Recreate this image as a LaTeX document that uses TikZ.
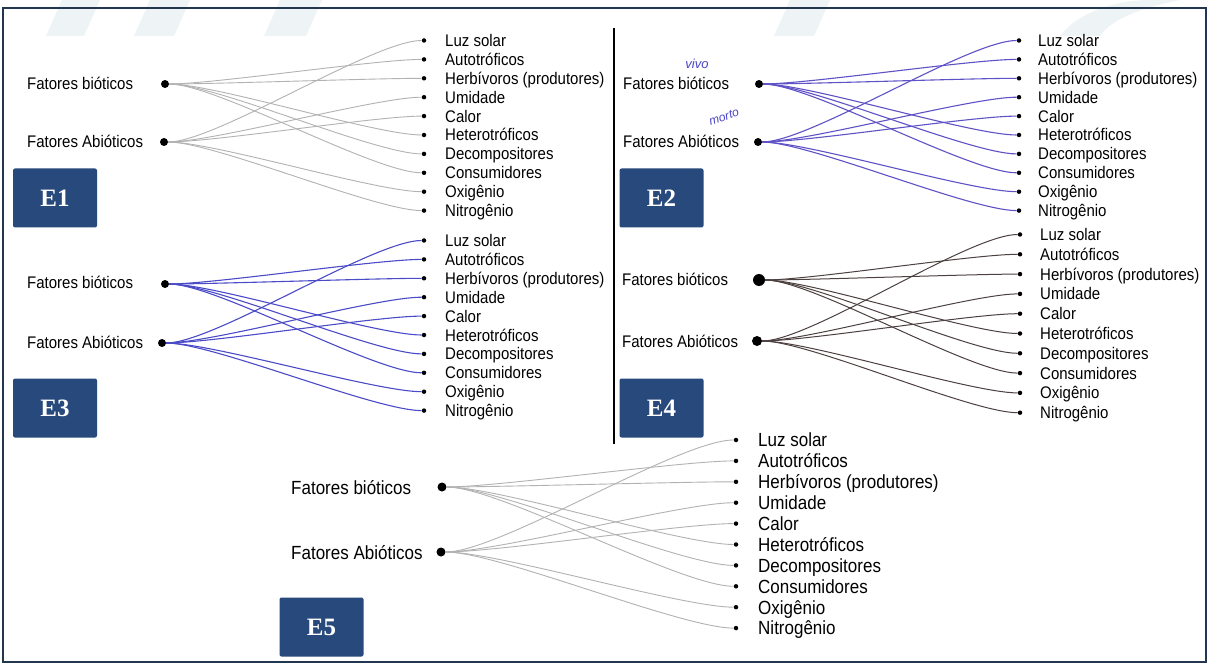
\documentclass[tikz,border=0pt]{standalone}
\usepackage{fontspec}
\setmainfont{Liberation Sans}
\newfontfamily\boxfont{Liberation Serif}
\definecolor{navy}{HTML}{27497B}
\definecolor{framec}{HTML}{22364F}
\definecolor{wmc}{HTML}{EEF3F5}
\definecolor{pena}{HTML}{5F52C6}
\definecolor{penb}{HTML}{4B4BC8}
\definecolor{penc}{HTML}{4D4040}
\definecolor{hand}{HTML}{4A45C8}
\newcommand\tall[1]{\scalebox{1}[1.12]{#1}}
\newcommand\itemlist[6]{%
  \foreach \t [count=\i] in {Luz solar,Autotróficos,Herbívoros (produtores),Umidade,Calor,Heterotróficos,Decompositores,Consumidores,Oxigênio,Nitrogênio}{%
    \node[bul] (#1i\i) at (#2,{#4+(\i-1)*#5}) {};
    \node[txt, font=\fontsize{#6}{#6}\selectfont] (#1t\i) at (#3,{#4+(\i-1)*#5+0.4*#6}) {\tall{\t}};
  }}
\newcommand\links[2]{%
  \foreach \j in {2,3,6,7,8} {\draw[#2] (#1b) to (#1i\j);}
  \foreach \j in {1,4,5,9,10} {\draw[#2] (#1a) to (#1i\j);}}
\begin{document}
\begin{tikzpicture}[x=1pt,y=-1pt,
  txt/.style={anchor=base west, inner sep=0},
  bul/.style={circle, fill=black, inner sep=0, minimum size=4.5},
  bigdot/.style={circle, fill=black, inner sep=0, minimum size=8},
  ebox/.style={fill=navy, rounded corners=2, minimum width=84, minimum height=59,
     text=white, font=\boxfont\bfseries\fontsize{25}{25}\selectfont},
  conn/.style={out=0, in=180, looseness=0.45},
  l1/.style={conn, draw=black!30, line width=0.9},
  l2/.style={conn, draw=pena, line width=1.1},
  l3/.style={conn, draw=penb, line width=1.1},
  l4/.style={conn, draw=penc, line width=1.0},
  l5/.style={conn, draw=black!30, line width=0.9},
  wm/.style={fill=wmc}]
\useasboundingbox (0,0) rectangle (1208,663);
\fill[white] (0,0) rectangle (1208,663);
% faint watermark shapes at the top
\fill[wm] (62,0) -- (100,0) -- (84,36) -- (46,36) -- cycle;
\fill[wm] (150,0) -- (190,0) -- (174,36) -- (134,36) -- cycle;
\fill[wm] (280,0) -- (322,0) -- (306,36) -- (264,36) -- cycle;
\fill[wm] (790,0) -- (830,0) -- (814,36) -- (774,36) -- cycle;
\fill[wm] (1060,36) .. controls (1080,10) and (1120,0) .. (1150,0) -- (1180,0) .. controls (1140,8) and (1110,20) .. (1100,36) -- cycle;
% frame
\draw[framec, line width=2.5] (3,8) rectangle (1206,662);
\coordinate (divtop) at (614,28);
\coordinate (divbot) at (614,444);
\draw[black, line width=2] (divtop) -- (divbot);

% ---------- E1 ----------
\node[txt, font=\fontsize{15}{15}\selectfont] (e1bl) at (27,90) {\tall{Fatores bióticos}};
\node[txt, font=\fontsize{15}{15}\selectfont] (e1al) at (27,148) {\tall{Fatores Abióticos}};
\node[bigdot] (e1b) at (165,84) {};
\node[bigdot] (e1a) at (164,142) {};
\itemlist{e1}{424}{445}{40.5}{18.9}{15}
\links{e1}{l1}
\node[ebox] (E1) at (55,198) {E1};

% ---------- E2 ----------
\node[txt, font=\fontsize{15}{15}\selectfont] (e2bl) at (623,90) {\tall{Fatores bióticos}};
\node[txt, font=\fontsize{15}{15}\selectfont] (e2al) at (623,148) {\tall{Fatores Abióticos}};
\node[bigdot] (e2b) at (759,84) {};
\node[bigdot] (e2a) at (758,142) {};
\itemlist{e2}{1019}{1038}{40.5}{18.9}{15}
\links{e2}{l2}
\node[text=hand, font=\itshape\fontsize{13}{13}\selectfont, inner sep=0] (vivo) at (697,64) {vivo};
\node[text=hand, font=\itshape\fontsize{12}{12}\selectfont, inner sep=0, rotate=18] (morto) at (724,117) {morto};
\node[ebox] (E2) at (661.5,198) {E2};

% ---------- E3 ----------
\node[txt, font=\fontsize{15}{15}\selectfont] (e3bl) at (27,289) {\tall{Fatores bióticos}};
\node[txt, font=\fontsize{15}{15}\selectfont] (e3al) at (27,348) {\tall{Fatores Abióticos}};
\node[bigdot] (e3b) at (165,284) {};
\node[bigdot] (e3a) at (162,343) {};
\itemlist{e3}{424}{445}{240.5}{18.9}{15}
\links{e3}{l3}
\node[ebox] (E3) at (55,408) {E3};

% ---------- E4 ----------
\node[txt, font=\fontsize{15}{15}\selectfont] (e4bl) at (622,286) {\tall{Fatores bióticos}};
\node[txt, font=\fontsize{15}{15}\selectfont] (e4al) at (622,347) {\tall{Fatores Abióticos}};
\node[bigdot, minimum size=12] (e4b) at (759,280) {};
\node[bigdot, minimum size=10] (e4a) at (757,341) {};
\itemlist{e4}{1020}{1040}{234.5}{19.8}{15}
\links{e4}{l4}
\node[ebox] (E4) at (661.5,408) {E4};

% ---------- E5 ----------
\node[txt, font=\fontsize{17}{17}\selectfont] (e5bl) at (291,494) {\tall{Fatores bióticos}};
\node[txt, font=\fontsize{17}{17}\selectfont] (e5al) at (291,559) {\tall{Fatores Abióticos}};
\node[bigdot, minimum size=9] (e5b) at (442,487) {};
\node[bigdot, minimum size=9] (e5a) at (441,552) {};
\itemlist{e5}{736}{758}{440}{20.9}{17}
\links{e5}{l5}
\node[ebox] (E5) at (321.5,627) {E5};
\end{tikzpicture}
\end{document}
